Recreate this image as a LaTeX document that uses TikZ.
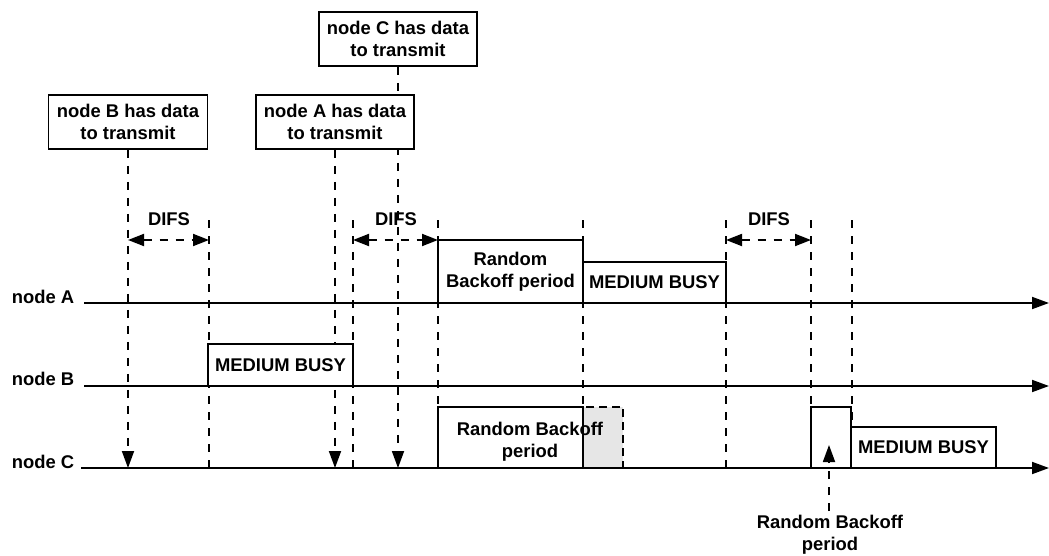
\documentclass[tikz,border=0pt]{standalone}
\usepackage{fontspec}
\setmainfont{Liberation Sans}
\usetikzlibrary{arrows.meta}
\definecolor{lightfill}{RGB}{230,230,230}
\pgfdeclarelayer{bg}
\pgfsetlayers{bg,main}
\begin{document}
\begin{tikzpicture}[x=1pt,y=-1pt,
  every node/.style={font=\fontsize{18.4}{22}\selectfont\bfseries, inner sep=0pt},
  tip/.style={-{Triangle[length=17pt,width=12pt]}},
  dtip/.style={{Triangle[length=16pt,width=12pt]}-{Triangle[length=16pt,width=12pt]}},
  dsh/.style={line width=1.8pt, dash pattern=on 8pt off 8pt},
  boxn/.style={draw, fill=white, line width=1.8pt, rectangle, align=center},
  openbox/.style={draw, line width=1.8pt, rectangle},
  timeline/.style={line width=1.8pt, -{Triangle[length=17pt,width=12pt]}},
  grayb/.style={draw, line width=1.8pt, dash pattern=on 8pt off 5pt, fill=lightfill, rectangle},
]
\useasboundingbox (0,0) rectangle (1049,556);

% timeline coordinates
\coordinate (aS) at (84,303); \coordinate (aE) at (1049,303);
\coordinate (bS) at (84,386); \coordinate (bE) at (1049,386);
\coordinate (cS) at (81,468); \coordinate (cE) at (1049,468);

% labels
\node (la) at (43,297) {node A};
\node (lb) at (43,379) {node B};
\node (lc) at (43,462) {node C};

% boxes with data
\node[boxn, minimum width=159pt, minimum height=54pt] (bdata) at (128,122) {node B has data\\to transmit};
\node[boxn, minimum width=158pt, minimum height=54pt] (adata) at (335,122) {node A has data\\to transmit};
\node[boxn, minimum width=158pt, minimum height=54pt] (cdata) at (398,39) {node C has data\\to transmit};

% dashed vertical coordinates
\coordinate (v1b) at (128,468);
\coordinate (v2t) at (209,220); \coordinate (v2b) at (209,468);
\coordinate (v3b) at (335,468);
\coordinate (v4t) at (353,220); \coordinate (v4b) at (353,468);
\coordinate (v5b) at (398,468);
\coordinate (v6t) at (438,220); \coordinate (v6b) at (438,468);
\coordinate (v7t) at (583,220); \coordinate (v7b) at (583,468);
\coordinate (v8t) at (726,220); \coordinate (v8b) at (726,468);
\coordinate (v9t) at (811,220); \coordinate (v9b) at (811,407);
\coordinate (v10t) at (852,220); \coordinate (v10b) at (852,427);

\begin{pgfonlayer}{bg}
\draw[dsh, tip] (bdata.south) -- (v1b);
\draw[dsh, tip] (adata.south) -- (v3b);
\draw[dsh, tip] (cdata.south) -- (v5b);
\draw[dsh] (v2t) -- (v2b);
\draw[dsh] (v4t) -- (v4b);
\draw[dsh] (v6t) -- (v6b);
\draw[dsh] (v7t) -- (v7b);
\draw[dsh] (v8t) -- (v8b);
\draw[dsh] (v9t) -- (v9b);
\draw[dsh] (v10t) -- (v10b);
\end{pgfonlayer}

% DIFS
\coordinate (d1a) at (128,240); \coordinate (d1b) at (209,240);
\coordinate (d2a) at (353,240); \coordinate (d2b) at (438,240);
\coordinate (d3a) at (726,240); \coordinate (d3b) at (811,240);
\draw[dsh, dtip] (d1a) -- (d1b);
\draw[dsh, dtip] (d2a) -- (d2b);
\draw[dsh, dtip] (d3a) -- (d3b);
\node (difs1) at (169,219) {DIFS};
\node (difs2) at (396,219) {DIFS};
\node (difs3) at (769,219) {DIFS};

% state boxes
\node[boxn, minimum width=145pt, minimum height=63pt] (rba) at (510.5,271.5) {Random\\Backoff period};
\node[boxn, minimum width=143pt, minimum height=41pt] (mba) at (654.5,282.5) {MEDIUM BUSY};
\node[boxn, minimum width=145pt, minimum height=42pt] (mbb) at (280.5,365) {MEDIUM BUSY};
\node[grayb, minimum width=40pt, minimum height=61pt] (gray) at (603,437.5) {};
\node[openbox, minimum width=145pt, minimum height=61pt] (rbc) at (510.5,437.5) {};
\node (rbctext) at (530,442) [align=center] {Random Backoff\\period};
\node[boxn, minimum width=40pt, minimum height=61pt] (smc) at (831,437.5) {};
\node[boxn, minimum width=145pt, minimum height=41pt] (mbc) at (923.5,447.5) {MEDIUM BUSY};

% timelines
\draw[timeline] (aS) -- (aE);
\draw[timeline] (bS) -- (bE);
\draw[timeline] (cS) -- (cE);

% bottom random backoff
\node (rbl) at (830,535) [align=center] {Random Backoff\\period};
\coordinate (uptip) at (829,445);
\draw[dsh, tip] ([yshift=4pt]rbl.north -| uptip) -- (uptip);
\end{tikzpicture}
\end{document}
